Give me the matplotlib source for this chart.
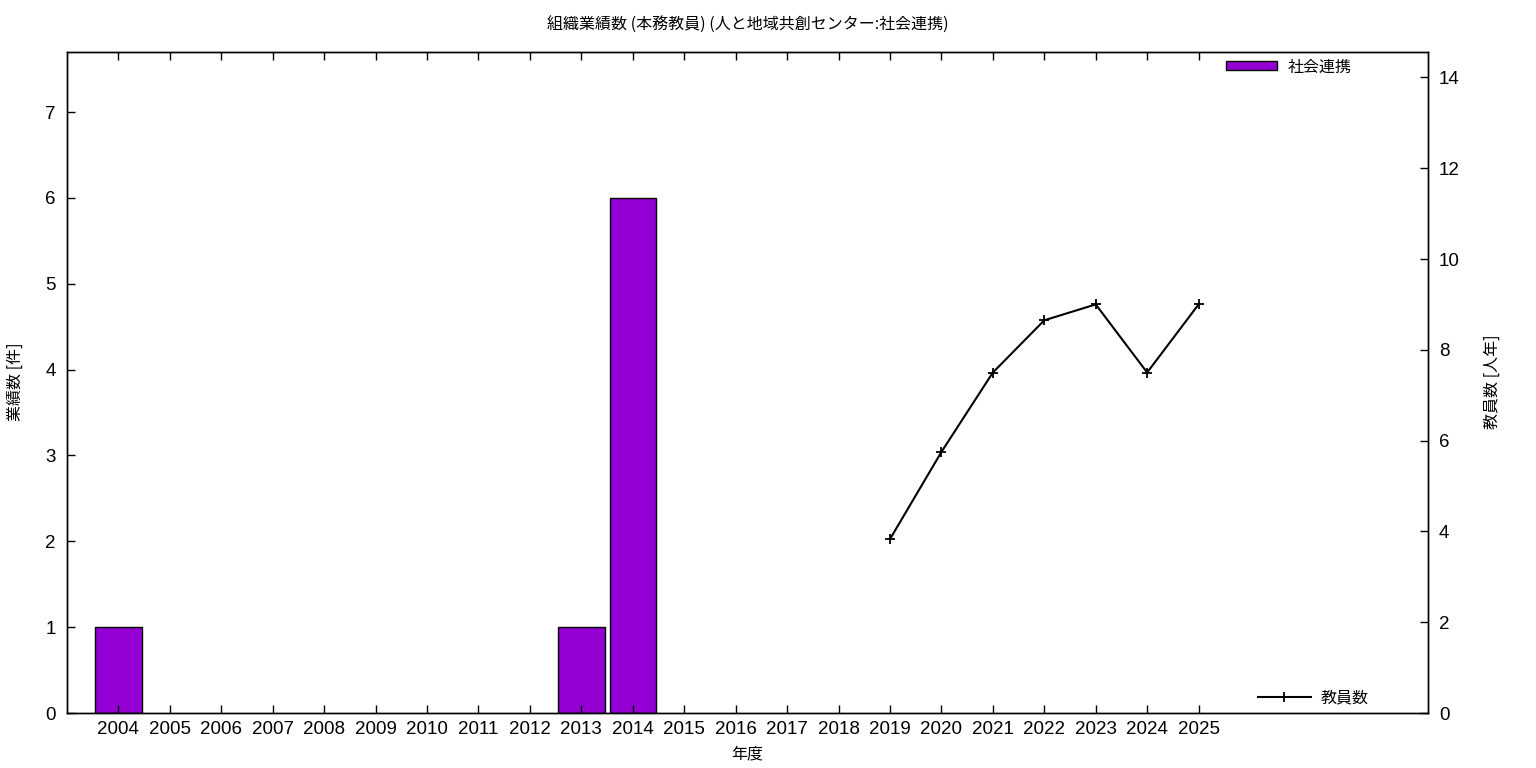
import matplotlib
matplotlib.use("Agg")
import matplotlib.pyplot as plt
from matplotlib.patches import Patch
from matplotlib.lines import Line2D

plt.rcParams['font.family'] = ['Noto Sans CJK JP', 'DejaVu Sans']

years = list(range(2004, 2026))
bar_years = [2004, 2013, 2014]
bar_values = [1, 1, 6]
staff_years = [2019, 2020, 2021, 2022, 2023, 2024, 2025]
staff_values = [3.83, 5.75, 7.5, 8.65, 9.0, 7.5, 9.0]

title = "組織業績数 (本務教員) (人と地域共創センター:社会連携)"
xlabel = "年度"
ylabel_left = "業績数 [件]"
ylabel_right = "教員数 [人年]"
bar_label = "社会連携"
line_label = "教員数"

fig = plt.figure(figsize=(15.36, 7.68), dpi=100)
ax = fig.add_axes([67/1536, 1-713/768, (1428-67)/1536, (713-52)/768])
ax2 = ax.twinx()

bar_color = "#9400d3"
ax.bar(bar_years, bar_values, width=0.9, color=bar_color, edgecolor="black", linewidth=1)
ax2.plot(staff_years, staff_values, color="black", linewidth=1.5, marker="+",
         markersize=7, markeredgewidth=1.3)

ax.set_xlim(2003, 2029.46)
ax.set_ylim(0, 7.7)
ax2.set_ylim(0, 14.56)

ax.set_xticks(years)
ax.set_xticklabels([str(y) for y in years])
ax.set_yticks(range(0, 8))
ax2.set_yticks(range(0, 15, 2))

ax.tick_params(axis='x', direction='in', top=True, bottom=True, length=6, width=1,
               labelsize=13.5, pad=6)
ax.tick_params(axis='y', direction='in', left=True, right=False, length=6, width=1,
               labelsize=13.5, pad=8)
ax2.tick_params(axis='y', direction='in', right=True, left=False, length=6, width=1,
                labelsize=13.5, pad=8)
for lbl in ax.get_xticklabels() + ax.get_yticklabels() + ax2.get_yticklabels():
    lbl.set_family(['Liberation Sans', 'DejaVu Sans'])
for a in (ax, ax2):
    for s in a.spines.values():
        s.set_linewidth(1)

fig.text((67+1428)/2/1536, 1-25/768, title, ha='center', va='center', fontsize=11.5)
fig.text((67+1428)/2/1536, 1-754/768, xlabel, ha='center', va='center', fontsize=11.5)
fig.text(15/1536, 1-382/768, ylabel_left, ha='center', va='center', rotation=90, fontsize=11.5)
fig.text(1492/1536, 1-382/768, ylabel_right, ha='center', va='center', rotation=90, fontsize=11.5)

fig.legend(handles=[Patch(facecolor=bar_color, edgecolor='black', linewidth=1)],
           labels=[bar_label], loc='center left',
           bbox_to_anchor=(1226/1536, 1-67/768), bbox_transform=fig.transFigure,
           frameon=False, borderpad=0, borderaxespad=0, handlelength=3.2,
           handleheight=0.5, handletextpad=0.63, fontsize=11.5)
fig.legend(handles=[Line2D([0], [0], color='black', linewidth=1.5, marker='+',
                           markersize=7, markeredgewidth=1.3)],
           labels=[line_label], loc='center left',
           bbox_to_anchor=(1258/1536, 1-698/768), bbox_transform=fig.transFigure,
           frameon=False, borderpad=0, borderaxespad=0, handlelength=3.3,
           handletextpad=0.63, fontsize=11.5)

fig.savefig("out.png", dpi=100)
